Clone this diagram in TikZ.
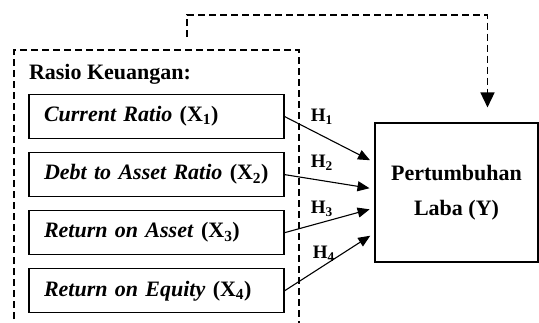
\documentclass[tikz,border=0pt]{standalone}
\usepackage{fontspec}
\setmainfont{Liberation Serif}
\usetikzlibrary{arrows.meta,positioning}

\begin{document}
\begin{tikzpicture}[x=1pt,y=1pt,>={Triangle[length=12pt,width=10pt]},line width=1.1pt,
  font=\fontsize{22}{26}\selectfont\bfseries,
  var/.style={rectangle,draw,text width=225pt,inner xsep=15pt,minimum height=44pt,align=left},
  hyp/.style={anchor=south west,inner sep=0pt,font=\fontsize{19}{22}\selectfont\bfseries},
  grp/.style={dashed,dash pattern=on 7pt off 4pt,line width=1.5pt}]
    \useasboundingbox (0,0) rectangle (539,-322);
    % variabel X
    \node[var] (x1) at (156.5,-116.5) {\textit{Current Ratio} (X\textsubscript{1})};
    \node[var] (x2) [below = 13pt of x1] {\textit{Debt to Asset Ratio} (X\textsubscript{2})};
    \node[var] (x3) [below = 13pt of x2] {\textit{Return on Asset} (X\textsubscript{3})};
    \node[var] (x4) [below = 13pt of x3] {\textit{Return on Equity} (X\textsubscript{4})};
    \node (rk) [above right = 9pt and 0pt of x1.north west, inner sep=0pt] {Rasio Keuangan:};
    \draw[grp] (14,-330) |- (299,-50) -- (299,-330);
    % variabel Y
    \node[draw,minimum width=163pt,minimum height=139pt,align=center] (y) at (456.5,-192.5)
      {Pertumbuhan\\[9pt]Laba (Y)};
    % hipotesis
    \draw[->,shorten >=5pt] (x1.east) -- ([yshift=30pt]y.west)
      node[hyp,pos=.286,yshift=4.5pt] {H\textsubscript{1}};
    \draw[->,shorten >=5pt] (x2.east) -- ([yshift=3.5pt]y.west)
      node[hyp,pos=.286,yshift=8pt] {H\textsubscript{2}};
    \draw[->,shorten >=5pt] (x3.east) -- ([yshift=-15.5pt]y.west)
      node[hyp,pos=.286,yshift=8.5pt] {H\textsubscript{3}};
    \draw[->,shorten >=5pt] (x4.east) -- ([yshift=-40.5pt]y.west)
      node[hyp,pos=.308,yshift=11pt] {H\textsubscript{4}};
    % simultan
    \coordinate (src) at (187,-37);
    \coordinate (bend) at (187,-15);
    \draw[grp,-{Triangle[length=15pt,width=14pt]}] (src) -- (bend)
      -| ([xshift=31pt,yshift=15pt]y.north);
\end{tikzpicture}
\end{document}
